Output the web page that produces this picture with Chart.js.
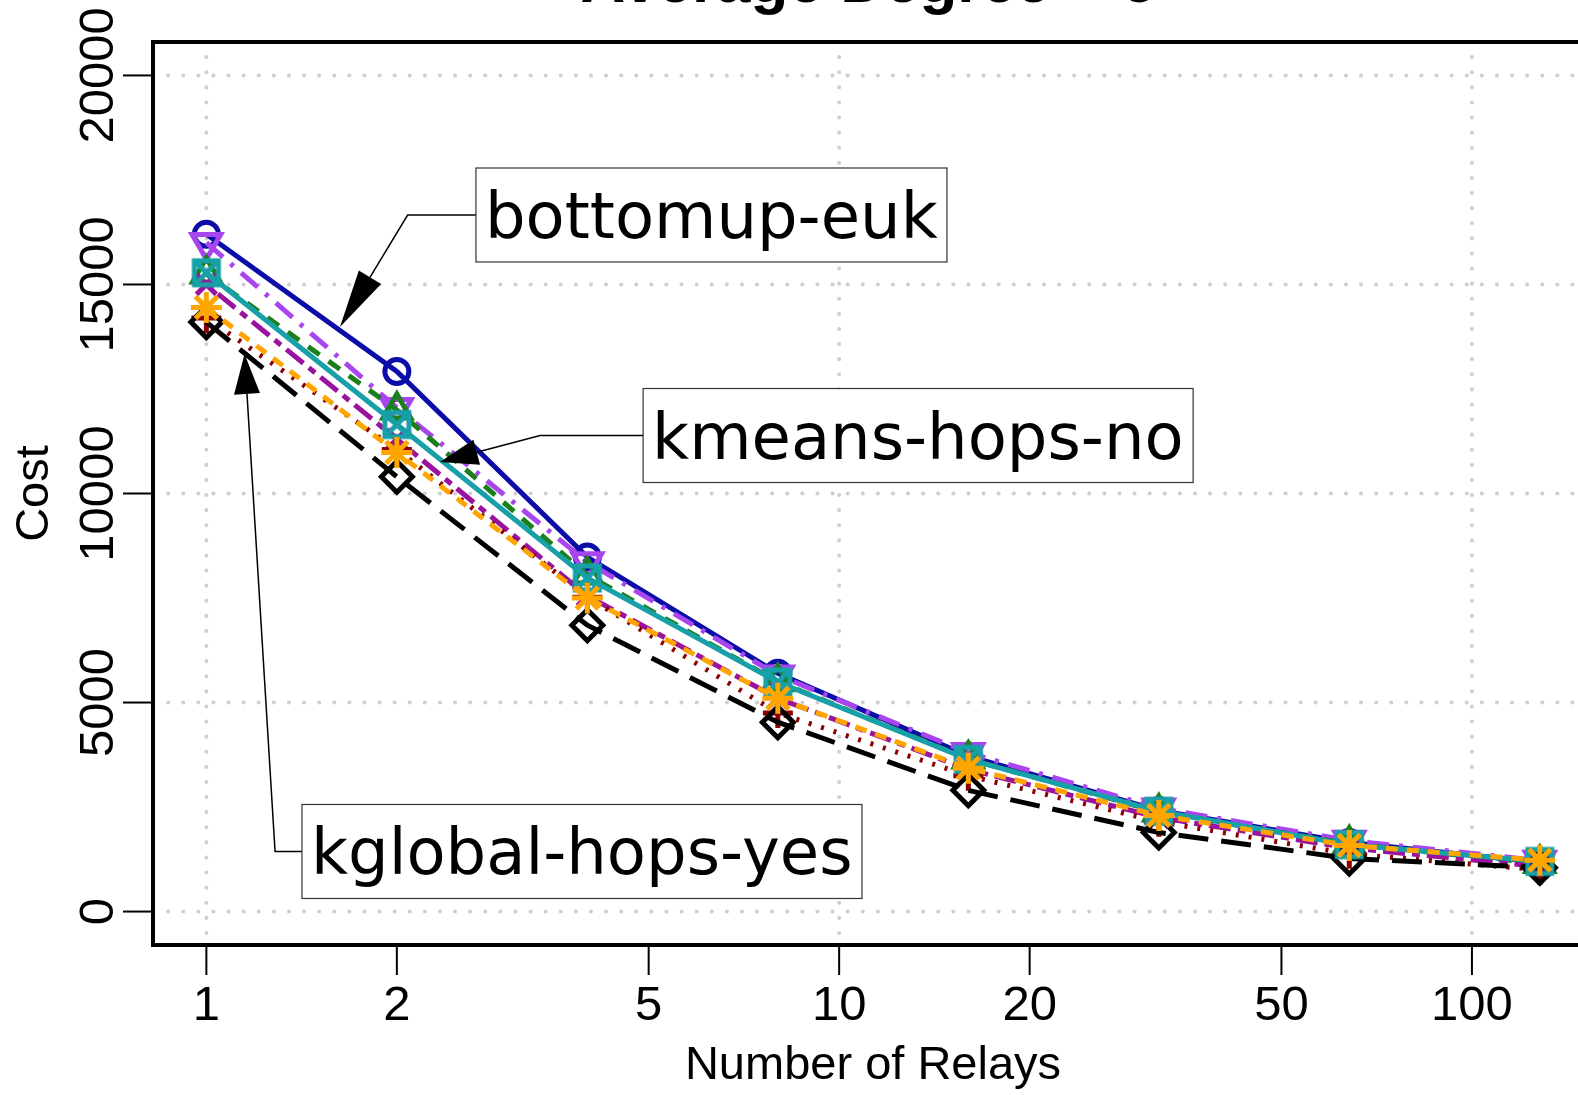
<!DOCTYPE html>
<html><head><meta charset="utf-8">
<script src="https://cdn.jsdelivr.net/npm/chart.js@4.4.1/dist/chart.umd.min.js"></script>
<style>
html,body{margin:0;padding:0;overflow:hidden;background:#fff;width:1578px;height:1095px}
canvas{display:block}
</style></head><body><canvas id="c" width="1578" height="1095" style="width:1578px;height:1095px"></canvas>
<script>
// ---- data ----
const relays = [1, 2, 4, 8, 16, 32, 64, 128];
const xTickValues = [1, 2, 5, 10, 20, 50, 100];
const xTickLabels = ['1', '2', '5', '10', '20', '50', '100'];
const xGridValues = [1, 10, 100];
const yTickValues = [0, 5000, 10000, 15000, 20000];
const yTickLabels = ['0', '5000', '10000', '15000', '20000'];
const chartTitle = 'Average Degree = 6';
const xTitle = 'Number of Relays';
const yTitle = 'Cost';

const costBottomupEuk   = [16200, 12920, 8480, 5700, 3720, 2420, 1650, 1180];
const costSeriesViolet  = [16000, 12050, 8360, 5650, 3800, 2470, 1700, 1220];
const costSeriesGreen   = [15250, 12000, 8050, 5500, 3650, 2380, 1620, 1150];
const costKmeansHopsNo  = [15280, 11650, 7980, 5490, 3640, 2400, 1600, 1200];
const costSeriesMagenta = [15000, 11300, 7550, 5100, 3400, 2250, 1520, 1080];
const costSeriesOrange  = [14450, 10980, 7500, 5100, 3430, 2300, 1580, 1230];
const costSeriesRed     = [14200, 11050, 7520, 4750, 3250, 2150, 1380, 1000];
const costKglobalHopsYes= [14100, 10400, 6850, 4530, 2900, 1890, 1270, 1050];

const annotationLabels = ['bottomup-euk', 'kmeans-hops-no', 'kglobal-hops-yes'];
// box left / middle, elbow and arrow tip in data units
const annotationBoxX = [2.667, 4.90, 1.416];
const annotationBoxY = [16662, 11387, 1437];
const annotationElbowX = [2.08, 3.368, 1.284];
const annotationTipX = [1.626, 2.34, 1.149];
const annotationTipY = [13983, 10754, 13337];

// ---- styling ----
const FONT = '"Liberation Sans", Arial, Helvetica, sans-serif';
function boxX(size){
  const c = document.createElement('canvas');
  c.width = size; c.height = size;
  const g = c.getContext('2d');
  const s = 24, o = (size - s)/2;
  g.strokeStyle = '#17a0a8'; g.lineWidth = 5;
  g.strokeRect(o, o, s, s);
  g.beginPath(); g.moveTo(o, o); g.lineTo(o+s, o+s); g.moveTo(o+s, o); g.lineTo(o, o+s); g.stroke();
  return c;
}
const boxXImg = boxX(34);

function pts(arr){ return relays.map((x, i) => ({x: x, y: arr[i]})); }
function ds(label, arr, color, dash, style, radius, order, rot){
  return {
    label: label, data: pts(arr), borderColor: color, backgroundColor: 'transparent',
    borderWidth: 5, borderDash: dash, tension: 0, fill: false,
    pointStyle: style, pointRadius: radius, pointBorderWidth: 5,
    pointBorderColor: color, pointBackgroundColor: 'transparent',
    pointRotation: rot || 0, order: order, borderCapStyle: 'butt'
  };
}

const datasets = [
  ds('bottomup-euk', costBottomupEuk, '#0c0ca8', [], 'circle', 12, 8),
  ds('series 2', costSeriesViolet, '#a845ee', [22, 10, 4, 10], 'triangle', 16.5, 7, 180),
  ds('series 3', costSeriesGreen, '#1b801b', [14, 11], 'triangle', 16, 6),
  ds('series 5', costSeriesMagenta, '#99139e', [8, 7, 22, 7], 'crossRot', 14, 5),
  ds('series 7', costSeriesRed, '#8b0000', [3, 10], 'cross', 15, 4),
  ds('kglobal-hops-yes', costKglobalHopsYes, '#000000', [30, 13], 'rectRot', 15.5, 3),
  ds('kmeans-hops-no', costKmeansHopsNo, '#17a0a8', [], boxXImg, 17, 2),
  ds('series 6', costSeriesOrange, '#ffa500', [12, 9], 'star', 15.5, 1)
];

const decor = {
  id: 'decor',
  beforeDatasetsDraw(chart){
    const ctx = chart.ctx, a = chart.chartArea, xs = chart.scales.x, ys = chart.scales.y;
    ctx.save();
    ctx.strokeStyle = '#cfcfcf'; ctx.lineWidth = 4; ctx.lineCap = 'round';
    ctx.setLineDash([0.1, 15]);
    yTickValues.forEach(v => {
      const y = ys.getPixelForValue(v);
      ctx.beginPath(); ctx.moveTo(a.left, y); ctx.lineTo(a.right + 20, y); ctx.stroke();
    });
    xGridValues.forEach(v => {
      const x = xs.getPixelForValue(v);
      ctx.beginPath(); ctx.moveTo(x, a.top); ctx.lineTo(x, a.bottom); ctx.stroke();
    });
    ctx.restore();
  },
  afterDatasetsDraw(chart){
    const ctx = chart.ctx, a = chart.chartArea, xs = chart.scales.x, ys = chart.scales.y;
    ctx.save();
    // box (right side lies beyond the visible page)
    ctx.strokeStyle = '#000'; ctx.lineWidth = 4; ctx.setLineDash([]);
    ctx.beginPath();
    ctx.moveTo(a.right + 20, a.top); ctx.lineTo(a.left, a.top); ctx.lineTo(a.left, a.bottom); ctx.lineTo(a.right + 20, a.bottom);
    ctx.stroke();
    // ticks
    ctx.lineWidth = 2;
    xTickValues.forEach(v => {
      const x = xs.getPixelForValue(v);
      ctx.beginPath(); ctx.moveTo(x, a.bottom); ctx.lineTo(x, a.bottom + 30); ctx.stroke();
    });
    yTickValues.forEach(v => {
      const y = ys.getPixelForValue(v);
      ctx.beginPath(); ctx.moveTo(a.left, y); ctx.lineTo(a.left - 30, y); ctx.stroke();
    });
    // tick labels
    ctx.fillStyle = '#000';
    ctx.font = '49px ' + FONT;
    ctx.textAlign = 'center'; ctx.textBaseline = 'middle';
    xTickValues.forEach((v, i) => {
      ctx.fillText(xTickLabels[i], xs.getPixelForValue(v), 1006);
    });
    yTickValues.forEach((v, i) => {
      ctx.save();
      ctx.translate(99, ys.getPixelForValue(v));
      ctx.rotate(-Math.PI/2);
      ctx.fillText(yTickLabels[i], 0, 0);
      ctx.restore();
    });
    // axis titles
    const plotCx = 873, cy = (a.top + a.bottom)/2;
    ctx.font = '47px ' + FONT;
    ctx.fillText(xTitle, plotCx, 1066);
    ctx.save(); ctx.translate(35, cy); ctx.rotate(-Math.PI/2); ctx.fillText(yTitle, 0, 0); ctx.restore();
    // title (mostly cropped)
    ctx.font = 'bold 62px ' + FONT;
    ctx.textBaseline = 'alphabetic';
    ctx.fillText(chartTitle, plotCx - 5, 2);
    // annotations
    const boxW = [471, 550, 560], boxH = 94, heads = [58, 38, 40];
    annotationLabels.forEach((lab, i) => {
      const bx = xs.getPixelForValue(annotationBoxX[i]);
      const by = ys.getPixelForValue(annotationBoxY[i]);
      const ex = xs.getPixelForValue(annotationElbowX[i]);
      const tx = xs.getPixelForValue(annotationTipX[i]);
      const ty = ys.getPixelForValue(annotationTipY[i]);
      ctx.strokeStyle = '#000'; ctx.lineWidth = 1.5; ctx.setLineDash([]);
      const ang = Math.atan2(ty - by, tx - ex);
      const hl = heads[i], hw = 13;
      const bxh = tx - Math.cos(ang)*hl, byh = ty - Math.sin(ang)*hl;
      ctx.beginPath(); ctx.moveTo(bx, by); ctx.lineTo(ex, by); ctx.lineTo(bxh, byh); ctx.stroke();
      ctx.fillStyle = '#000';
      ctx.beginPath();
      ctx.moveTo(tx, ty);
      ctx.lineTo(bxh + Math.sin(ang)*hw, byh - Math.cos(ang)*hw);
      ctx.lineTo(bxh - Math.sin(ang)*hw, byh + Math.cos(ang)*hw);
      ctx.closePath(); ctx.fill();
      // box
      ctx.fillStyle = '#fff';
      ctx.fillRect(bx, by - boxH/2, boxW[i], boxH);
      ctx.strokeStyle = '#333'; ctx.lineWidth = 1.2;
      ctx.strokeRect(bx, by - boxH/2, boxW[i], boxH);
      ctx.fillStyle = '#000';
      ctx.font = '64px "DejaVu Sans", sans-serif';
      ctx.textAlign = 'left'; ctx.textBaseline = 'alphabetic';
      ctx.fillText(lab, bx + 9, by + 23);
    });
    ctx.restore();
  }
};

new Chart(document.getElementById('c'), {
  type: 'line',
  data: { datasets: datasets },
  options: {
    responsive: false, animation: false, devicePixelRatio: 1,
    layout: { autoPadding: false, padding: { left: 153, top: 42, right: 0, bottom: 150 } },
    plugins: { legend: { display: false }, tooltip: { enabled: false }, title: { display: false } },
    scales: {
      x: { type: 'logarithmic', min: 0.8235, max: 147.1, bounds: 'data', display: false },
      y: { type: 'linear', min: -800, max: 20800, bounds: 'data', display: false }
    }
  },
  plugins: [decor]
});
</script></body></html>
